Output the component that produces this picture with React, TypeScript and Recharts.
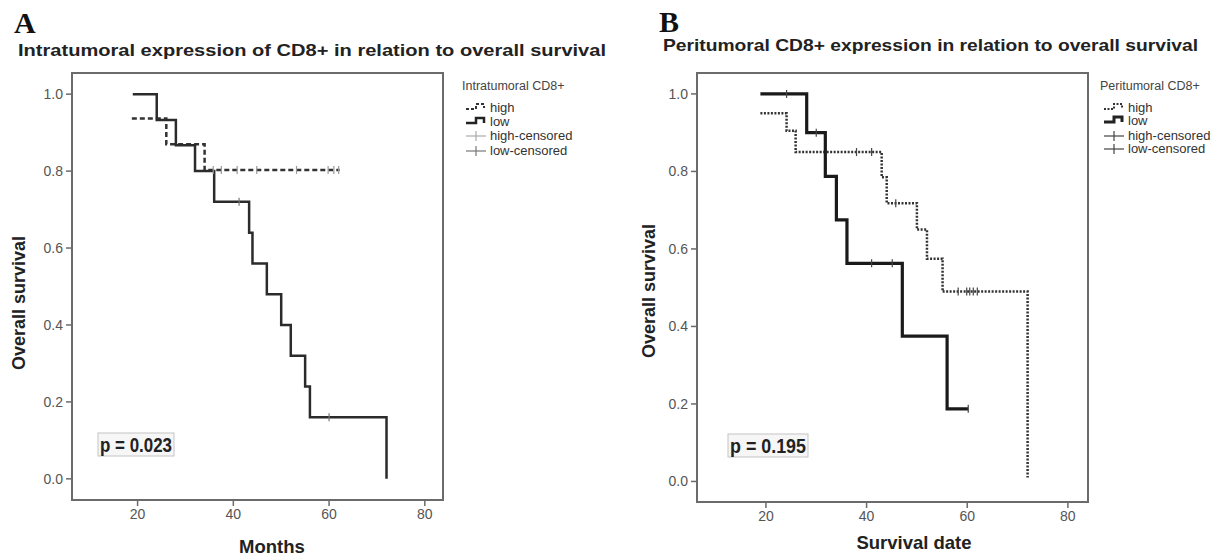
import React from "react";
import { ComposedChart, Line, Scatter, XAxis, YAxis } from "recharts";

const xTicks = [20, 40, 60, 80];
const yTicks = [0, 0.2, 0.4, 0.6, 0.8, 1.0];

// panel A - intratumoral CD8+
const intraLowTime = [19, 24, 28, 32, 36, 43.3, 44, 47, 50, 52, 55, 56, 72];
const intraLowSurv = [1.0, 0.933, 0.867, 0.8, 0.72, 0.64, 0.56, 0.48, 0.4, 0.32, 0.24, 0.16, 0];
const intraHighTime = [18.8, 26, 34, 62.2];
const intraHighSurv = [0.937, 0.87, 0.803, 0.803];
const intraLowCensTime = [41.2, 60];
const intraLowCensSurv = [0.72, 0.16];
const intraHighCensTime = [35.8, 37.5, 40.8, 44.9, 53.2, 59.8, 61, 62];
const intraHighCensSurv = [0.803, 0.803, 0.803, 0.803, 0.803, 0.803, 0.803, 0.803];

// panel B - peritumoral CD8+
const periLowTime = [18.9, 28.1, 31.8, 34, 36.1, 47.1, 56, 60.2];
const periLowSurv = [1.0, 0.9, 0.787, 0.675, 0.563, 0.375, 0.1875, 0.1875];
const periHighTime = [18.9, 24.1, 25.9, 43, 44, 50, 52, 55.1, 72];
const periHighSurv = [0.95, 0.905, 0.85, 0.785, 0.718, 0.65, 0.575, 0.49, 0.01];
const periLowCensTime = [24.1, 30, 41, 45.1, 60.2];
const periLowCensSurv = [1.0, 0.9, 0.563, 0.563, 0.1875];
const periHighCensTime = [38, 41, 45.8, 58.2, 59.9, 60.5, 61.2, 62];
const periHighCensSurv = [0.85, 0.85, 0.718, 0.49, 0.49, 0.49, 0.49, 0.49];

const toPoints = (ts: number[], ss: number[]) => ts.map((t, i) => ({ t, s: ss[i] }));

const FONT = "'Liberation Sans', Arial, sans-serif";
const tickStyle = { fontSize: 14, fill: "#555", fontFamily: FONT };

const censorShape = (color: string) => (props: any) => {
  const { cx, cy } = props;
  return <line x1={cx} x2={cx} y1={cy - 4} y2={cy + 4} stroke={color} strokeWidth={1.2} />;
};

interface PanelProps {
  left: number;
  width: number;
  margin: { top: number; right: number; bottom: number; left: number };
  xDomain: [number, number];
  yDomain: [number, number];
  low: { t: number; s: number }[];
  high: { t: number; s: number }[];
  lowCens: { t: number; s: number }[];
  highCens: { t: number; s: number }[];
  lowStyle: any;
  highStyle: any;
  lowCensColor: string;
  highCensColor: string;
}

const Panel: React.FC<PanelProps> = (p) => (
  <div style={{ position: "absolute", left: p.left, top: 0 }}>
    <ComposedChart width={p.width} height={556} margin={p.margin}>
      <XAxis
        type="number"
        dataKey="t"
        domain={p.xDomain}
        ticks={xTicks}
        allowDataOverflow
        tick={tickStyle}
        tickSize={6}
        tickMargin={3}
        height={30}
        axisLine={{ stroke: "#6b6b6b", strokeWidth: 2 }}
        tickLine={{ stroke: "#6b6b6b", strokeWidth: 1.5 }}
      />
      <YAxis
        type="number"
        dataKey="s"
        domain={p.yDomain}
        ticks={yTicks}
        allowDataOverflow
        tickFormatter={(v: number) => v.toFixed(1)}
        tick={tickStyle}
        tickSize={6}
        tickMargin={3}
        width={50}
        axisLine={{ stroke: "#6b6b6b", strokeWidth: 2 }}
        tickLine={{ stroke: "#6b6b6b", strokeWidth: 1.5 }}
      />
      <Line
        data={p.high}
        dataKey="s"
        type="stepAfter"
        dot={false}
        isAnimationActive={false}
        {...p.highStyle}
      />
      <Line
        data={p.low}
        dataKey="s"
        type="stepAfter"
        dot={false}
        isAnimationActive={false}
        {...p.lowStyle}
      />
      <Scatter data={p.highCens} dataKey="s" shape={censorShape(p.highCensColor)} isAnimationActive={false} />
      <Scatter data={p.lowCens} dataKey="s" shape={censorShape(p.lowCensColor)} isAnimationActive={false} />
    </ComposedChart>
  </div>
);

const LegendBlock: React.FC<{
  x: number;
  title: string;
  titleY: number;
  rows: number[];
  highDash: string;
  lowWidth: number;
  highCensColor: string;
  lowCensColor: string;
}> = ({ x, title, titleY, rows, highDash, lowWidth, highCensColor, lowCensColor }) => {
  const sx = x + 4;
  const tx = x + 28;
  const labels = ["high", "low", "high-censored", "low-censored"];
  return (
    <g fontFamily={FONT}>
      <text x={x} y={titleY} fontSize={12.5} fill="#444">
        {title}
      </text>
      <path
        d={`M${sx},${rows[0] - 3} H${sx + 10} V${rows[0] - 8} H${sx + 18} V${rows[0] - 4}`}
        fill="none"
        stroke="#333"
        strokeWidth={2}
        strokeDasharray={highDash}
      />
      <path
        d={`M${sx},${rows[1] - 3} H${sx + 10} V${rows[1] - 8} H${sx + 18} V${rows[1] - 3}`}
        fill="none"
        stroke="#222"
        strokeWidth={lowWidth}
      />
      <line x1={sx} x2={sx + 20} y1={rows[2] - 4} y2={rows[2] - 4} stroke={highCensColor} strokeWidth={1.2} />
      <line x1={sx + 10} x2={sx + 10} y1={rows[2] - 9} y2={rows[2] + 1} stroke={highCensColor} strokeWidth={1.2} />
      <line x1={sx} x2={sx + 20} y1={rows[3] - 4} y2={rows[3] - 4} stroke={lowCensColor} strokeWidth={1.2} />
      <line x1={sx + 10} x2={sx + 10} y1={rows[3] - 9} y2={rows[3] + 1} stroke={lowCensColor} strokeWidth={1.2} />
      {labels.map((l, i) => (
        <text key={l} x={tx} y={rows[i]} fontSize={13} fill="#333">
          {l}
        </text>
      ))}
    </g>
  );
};

export default function App() {
  return (
    <div style={{ position: "absolute", left: 0, top: 0, width: 1231, height: 556, background: "#fff" }}>
      <Panel
        left={0}
        width={620}
        margin={{ top: 73, right: 177, bottom: 26, left: 22 }}
        xDomain={[6.3, 83.8]}
        yDomain={[-0.055, 1.055]}
        low={toPoints(intraLowTime, intraLowSurv)}
        high={toPoints(intraHighTime, intraHighSurv)}
        lowCens={toPoints(intraLowCensTime, intraLowCensSurv)}
        highCens={toPoints(intraHighCensTime, intraHighCensSurv)}
        lowStyle={{ stroke: "#2b2b2b", strokeWidth: 2.5 }}
        highStyle={{ stroke: "#333", strokeWidth: 2.5, strokeDasharray: "5 3" }}
        lowCensColor="#777"
        highCensColor="#999"
      />
      <Panel
        left={620}
        width={611}
        margin={{ top: 73, right: 143, bottom: 24, left: 27 }}
        xDomain={[6.3, 84]}
        yDomain={[-0.053, 1.054]}
        low={toPoints(periLowTime, periLowSurv)}
        high={toPoints(periHighTime, periHighSurv)}
        lowCens={toPoints(periLowCensTime, periLowCensSurv)}
        highCens={toPoints(periHighCensTime, periHighCensSurv)}
        lowStyle={{ stroke: "#1a1a1a", strokeWidth: 3.2 }}
        highStyle={{ stroke: "#333", strokeWidth: 2.5, strokeDasharray: "2 1.5" }}
        lowCensColor="#444"
        highCensColor="#444"
      />
      <svg
        width={1231}
        height={556}
        style={{ position: "absolute", left: 0, top: 0, pointerEvents: "none" }}
      >
        {/* plot frames */}
        <rect x={72} y={73} width={371} height={427} fill="none" stroke="#6b6b6b" strokeWidth={2} />
        <rect x={697} y={73} width={391} height={429} fill="none" stroke="#6b6b6b" strokeWidth={2} />

        <text x={14} y={33} fontFamily="'Liberation Serif', 'Times New Roman', serif" fontWeight="bold" fontSize={30} fill="#111">
          A
        </text>
        <text x={18} y={56} fontFamily={FONT} fontWeight="bold" fontSize={17} fill="#222" textLength={588} lengthAdjust="spacingAndGlyphs">
          Intratumoral expression of CD8+ in relation to overall survival
        </text>
        <text x={659} y={32} fontFamily="'Liberation Serif', 'Times New Roman', serif" fontWeight="bold" fontSize={30} fill="#111">
          B
        </text>
        <text x={663} y={51} fontFamily={FONT} fontWeight="bold" fontSize={17} fill="#222" textLength={535} lengthAdjust="spacingAndGlyphs">
          Peritumoral CD8+ expression in relation to overall survival
        </text>

        <text x={25} y={303} transform="rotate(-90 25 303)" textAnchor="middle" fontFamily={FONT} fontWeight="bold" fontSize={18} fill="#222">
          Overall survival
        </text>
        <text x={655} y={291} transform="rotate(-90 655 291)" textAnchor="middle" fontFamily={FONT} fontWeight="bold" fontSize={18} fill="#222">
          Overall survival
        </text>
        <text x={272} y={553} textAnchor="middle" fontFamily={FONT} fontWeight="bold" fontSize={18.5} fill="#222">
          Months
        </text>
        <text x={914} y={549} textAnchor="middle" fontFamily={FONT} fontWeight="bold" fontSize={18.5} fill="#222">
          Survival date
        </text>

        <rect x={98} y={433} width={76} height={23} fill="#f6f6f6" stroke="#c4c4c4" strokeWidth={1} />
        <text x={100} y={452} fontFamily="'Liberation Sans Narrow', 'Liberation Sans', sans-serif" fontWeight="bold" fontSize={20} fill="#222" textLength={72} lengthAdjust="spacingAndGlyphs">
          p = 0.023
        </text>
        <rect x={728} y={434} width={80} height={23} fill="#f6f6f6" stroke="#c4c4c4" strokeWidth={1} />
        <text x={730} y={453} fontFamily="'Liberation Sans Narrow', 'Liberation Sans', sans-serif" fontWeight="bold" fontSize={20} fill="#222" textLength={76} lengthAdjust="spacingAndGlyphs">
          p = 0.195
        </text>

        <LegendBlock
          x={462}
          title="Intratumoral CD8+"
          titleY={90}
          rows={[112, 126, 140, 155]}
          highDash="3 2"
          lowWidth={2.5}
          highCensColor="#aaa"
          lowCensColor="#777"
        />
        <LegendBlock
          x={1100}
          title="Peritumoral CD8+"
          titleY={90}
          rows={[112, 125, 140, 153]}
          highDash="2 1.5"
          lowWidth={3}
          highCensColor="#444"
          lowCensColor="#444"
        />
      </svg>
    </div>
  );
}
